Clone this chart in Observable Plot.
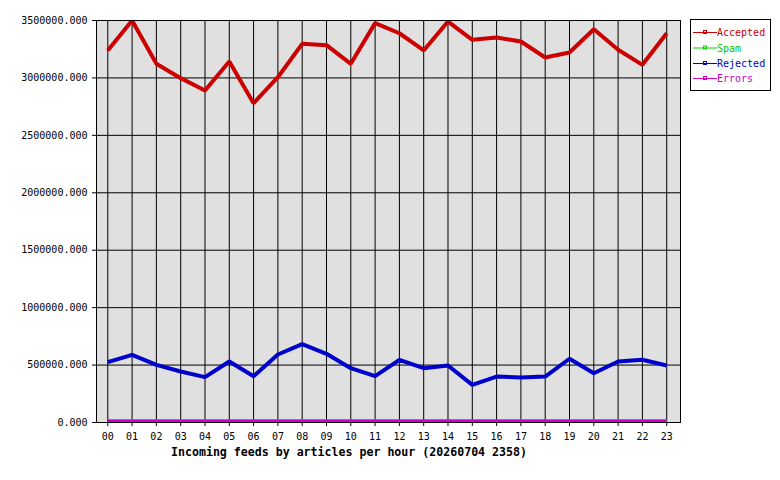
<!DOCTYPE html>
<html>
<head>
<meta charset="utf-8">
<script src="https://cdn.jsdelivr.net/npm/d3@7"></script>
<script src="https://cdn.jsdelivr.net/npm/@observablehq/plot@0.6"></script>
<style>
  html, body { margin: 0; padding: 0; background: #fff; }
  #chart svg { display: block; }
</style>
</head>
<body>
<div id="chart"></div>
<script>
const hours = ["00","01","02","03","04","05","06","07","08","09","10","11","12","13","14","15","16","17","18","19","20","21","22","23"];
const accepted = [3239000,3500000,3123000,2998000,2891000,3143000,2780000,3006000,3297000,3285000,3123000,3477000,3389000,3239000,3491000,3332000,3352000,3317000,3178000,3221000,3424000,3245000,3114000,3389000];
const spam = [0,0,0,0,0,0,0,0,0,0,0,0,0,0,0,0,0,0,0,0,0,0,0,0];
const rejected = [525000,589000,502000,444000,395000,531000,403000,592000,682000,598000,473000,403000,546000,473000,496000,328000,400000,392000,400000,555000,429000,531000,546000,496000];
const errors = [0,0,0,0,0,0,0,0,0,0,0,0,0,0,0,0,0,0,0,0,0,0,0,0];
const seriesNames = ["Accepted","Spam","Rejected","Errors"];
const seriesColors = ["#cc0000","#00cc00","#0000cc","#cc00cc"];
const yTicks = [0,500000,1000000,1500000,2000000,2500000,3000000,3500000];
const title = "Incoming feeds by articles per hour (20260704 2358)";

const seriesValues = [accepted, spam, rejected, errors];
const rows = [];
seriesNames.forEach((name, i) => {
  hours.forEach((h, j) => rows.push({hour: h, value: seriesValues[i][j], series: name}));
});
const mainRows = rows.filter(d => d.series === "Accepted" || d.series === "Rejected");
const lowRows = rows.filter(d => d.series === "Spam" || d.series === "Errors");

const font = "'DejaVu Sans Mono', 'Liberation Mono', monospace";

const chart = Plot.plot({
  width: 780,
  height: 480,
  marginLeft: 96,
  marginRight: 100,
  marginTop: 20,
  marginBottom: 58,
  style: {fontFamily: font, fontSize: "10px", color: "#000", background: "#fff", overflow: "visible"},
  x: {type: "point", domain: hours, padding: 0.516, align: 0.45, round: false, label: null},
  y: {domain: [0, 3500000], label: null},
  color: {domain: seriesNames, range: seriesColors},
  marks: [
    Plot.frame({fill: "#e0e0e0", stroke: null}),
    Plot.gridX(hours, {stroke: "#000", strokeOpacity: 1, strokeWidth: 1}),
    Plot.gridY(yTicks, {stroke: "#000", strokeOpacity: 1, strokeWidth: 1}),
    Plot.axisX({ticks: hours, tickSize: 4, tickPadding: 6, label: null, stroke: "#000", fill: "#000"}),
    Plot.axisY({ticks: yTicks, tickSize: 4, tickPadding: 5, tickFormat: d3.format(".3f"), label: null, stroke: "#000", fill: "#000"}),
    Plot.line(lowRows, {x: "hour", y: "value", z: "series", stroke: "series", strokeWidth: 4, dy: -1, strokeLinecap: "butt", clip: "frame"}),
    Plot.line(mainRows, {x: "hour", y: "value", z: "series", stroke: "series", strokeWidth: 4, strokeLinejoin: "miter", strokeLinecap: "butt", clip: "frame"}),
    Plot.frame({stroke: "#000", strokeWidth: 1})
  ]
});

const svg = d3.select(chart);

// Title below the x axis
svg.append("text")
  .attr("x", 349)
  .attr("y", 456)
  .attr("text-anchor", "middle")
  .attr("font-family", font)
  .attr("font-size", "11.6px")
  .attr("font-weight", "bold")
  .attr("fill", "#000")
  .text(title);

// Legend
const lg = svg.append("g").attr("text-anchor", "start");
lg.append("rect")
  .attr("x", 690.5).attr("y", 19.5)
  .attr("width", 80).attr("height", 71)
  .attr("fill", "#fff").attr("stroke", "#000").attr("stroke-width", 1);
const legendY = [32, 47.5, 63, 78];
seriesNames.forEach((name, i) => {
  const y = legendY[i];
  lg.append("line")
    .attr("x1", 693).attr("x2", 717)
    .attr("y1", y + 0.5).attr("y2", y + 0.5)
    .attr("stroke", seriesColors[i]).attr("stroke-width", 1);
  lg.append("rect")
    .attr("x", 703.5).attr("y", y - 1.5)
    .attr("width", 3).attr("height", 3)
    .attr("fill", "none").attr("stroke", seriesColors[i]).attr("stroke-width", 1);
  lg.append("text")
    .attr("x", 717).attr("y", y + 4)
    .attr("text-anchor", "start")
    .attr("font-family", font).attr("font-size", "10px")
    .attr("fill", seriesColors[i])
    .text(name);
});

document.getElementById("chart").appendChild(chart);
</script>
</body>
</html>
